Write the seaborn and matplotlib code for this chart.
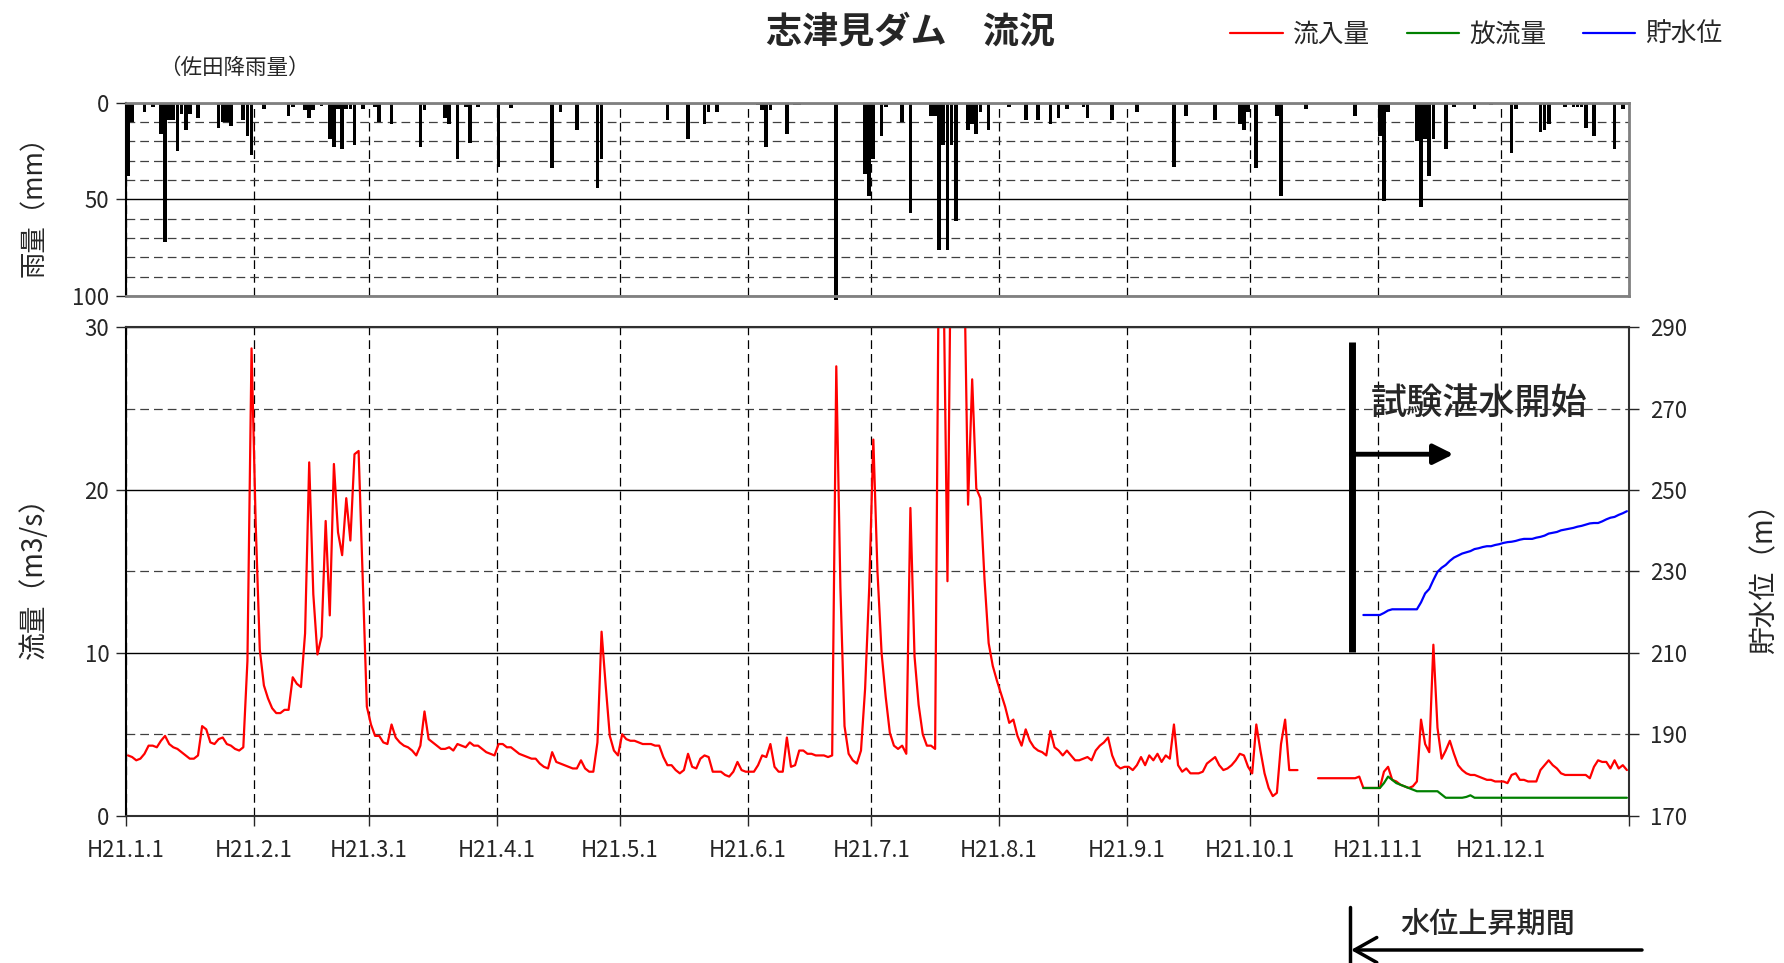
import numpy as np
import pandas as pd
import seaborn as sns
import matplotlib.pyplot as plt
from matplotlib.lines import Line2D
from matplotlib.ticker import MultipleLocator

# H21 (2009) daily record
# 佐田降雨量: day of year (0 = Jan 1) and rainfall in mm, other days 0
rain_day = [0, 1, 4, 6, 8, 9, 10, 11, 12, 13, 14, 15, 17, 22, 23, 24, 25, 28, 29, 30,
            33, 39, 40, 43, 44, 45, 47, 49, 50, 51, 52, 53, 54, 55, 57, 60, 61, 64, 71, 72,
            77, 78, 80, 82, 83, 85, 90, 93, 103, 105, 109, 114, 115, 131, 135, 136, 140, 141, 143, 153,
            154, 155, 156, 160, 162, 163, 172, 179, 180, 181, 183, 184, 188, 190, 195, 196, 197, 198, 199, 200,
            201, 204, 205, 206, 207, 209, 214, 218, 221, 224, 226, 228, 232, 233, 239, 245, 254, 257, 264, 270,
            271, 272, 274, 279, 280, 286, 298, 304, 305, 306, 313, 314, 315, 316, 317, 320, 322, 327, 331, 336,
            337, 343, 344, 345, 349, 351, 352, 353, 354, 356, 361, 363]
rain_mm = [38, 10, 5, 2, 16, 72, 9, 9, 25, 6, 14, 6, 8, 13, 10, 10, 12, 9, 17, 27,
           3, 7, 2, 4, 8, 4, 1.5, 19, 23, 3, 24, 3, 3, 22, 3, 2, 10, 11, 23, 4,
           8, 11, 29, 2, 21, 2, 33, 2.5, 34, 5, 14, 44, 29, 9, 0.5, 19, 11, 5, 5, 1,
           4, 23, 4, 16, 1, 1, 102, 37, 48, 29, 17, 2, 10, 57, 7, 7, 76, 22, 76, 22,
           61, 14, 11, 16, 5, 14, 2, 9, 9, 11, 8, 3, 2, 8, 9, 5, 33, 7, 9, 11,
           14, 5, 34, 7, 48, 3, 7, 17, 51, 5, 20, 54, 19, 38, 19, 24, 2, 3, 1, 26,
           3, 15, 14, 11, 2, 2, 2, 2, 13, 17, 24, 3]

# 流入量 (m3/s), one value per day
inflow_jan = [3.7, 3.6, 3.4, 3.5, 3.8, 4.3, 4.3, 4.2, 4.6, 4.9, 4.4, 4.2, 4.1, 3.9, 3.7, 3.5,
              3.5, 3.7, 5.5, 5.3, 4.5, 4.4, 4.7, 4.8, 4.4, 4.3, 4.1, 4.0, 4.2, 9.5, 28.7]
inflow_feb = [18.0, 10.2, 8.0, 7.2, 6.6, 6.3, 6.3, 6.5, 6.5, 8.5, 8.1, 7.9, 11.2, 21.7,
              13.6, 9.9, 11.0, 18.1, 12.3, 21.6, 17.4, 16.0, 19.5, 16.9, 22.2, 22.4, 14.5, 6.7]
inflow_mar = [5.6, 4.9, 4.9, 4.5, 4.4, 5.6, 4.8, 4.5, 4.3, 4.2, 4.0, 3.7, 4.3, 6.4, 4.7, 4.5,
              4.3, 4.1, 4.1, 4.2, 4.0, 4.4, 4.3, 4.2, 4.5, 4.3, 4.3, 4.1, 3.9, 3.8, 3.7]
inflow_apr = [4.4, 4.4, 4.2, 4.2, 4.0, 3.8, 3.7, 3.6, 3.5, 3.5, 3.2, 3.0, 2.9, 3.9, 3.3,
              3.2, 3.1, 3.0, 2.9, 2.9, 3.4, 2.9, 2.7, 2.7, 4.5, 11.3, 8.0, 4.9, 4.0, 3.7]
inflow_may = [5.0, 4.7, 4.6, 4.6, 4.5, 4.4, 4.4, 4.4, 4.3, 4.3, 3.6, 3.1, 3.1, 2.8, 2.6, 2.8,
              3.8, 3.0, 2.9, 3.5, 3.7, 3.6, 2.7, 2.7, 2.7, 2.5, 2.4, 2.7, 3.3, 2.8, 2.7]
inflow_jun = [2.7, 2.7, 3.1, 3.7, 3.6, 4.4, 3.0, 2.7, 2.7, 4.8, 3.0, 3.1, 4.0, 4.0, 3.8,
              3.8, 3.7, 3.7, 3.7, 3.6, 3.7, 27.6, 14.0, 5.5, 3.8, 3.4, 3.2, 4.0, 7.8, 14.0]
inflow_jul = [23.1, 15.0, 10.0, 7.3, 5.1, 4.3, 4.1, 4.3, 3.8, 18.9, 9.8, 6.8, 5.0, 4.3, 4.3, 4.1,
              38.0, 34.0, 14.4, 40.0, 45.0, 42.0, 35.0, 19.1, 26.8, 20.1, 19.5, 14.5, 10.6, 9.2, 8.3]
inflow_aug = [7.5, 6.7, 5.7, 5.9, 4.9, 4.3, 5.3, 4.6, 4.2, 4.0, 3.9, 3.7, 5.2, 4.2, 4.0, 3.7,
              4.0, 3.7, 3.4, 3.4, 3.5, 3.6, 3.4, 4.0, 4.3, 4.5, 4.8, 3.7, 3.1, 2.9, 3.0]
inflow_sep = [3.0, 2.8, 3.1, 3.6, 3.1, 3.7, 3.4, 3.8, 3.3, 3.7, 3.5, 5.6, 3.1, 2.7, 2.9,
              2.6, 2.6, 2.6, 2.7, 3.2, 3.4, 3.6, 3.1, 2.8, 2.9, 3.1, 3.4, 3.8, 3.7, 3.0]
inflow_oct = [2.6, 5.6, 4.0, 2.6, 1.7, 1.2, 1.4, 4.4, 5.9, 2.8, 2.8, 2.8, np.nan, np.nan, np.nan, np.nan,
              2.3, 2.3, 2.3, 2.3, 2.3, 2.3, 2.3, 2.3, 2.3, 2.3, 2.4, 1.7, 1.7, 1.7, 1.7]
inflow_nov = [1.7, 2.7, 3.0, 2.2, 2.1, 1.9, 1.8, 1.7, 1.8, 2.1, 5.9, 4.4, 3.9, 10.5, 5.4,
              3.5, 4.0, 4.6, 3.8, 3.1, 2.8, 2.6, 2.5, 2.5, 2.4, 2.3, 2.2, 2.2, 2.1, 2.1]
inflow_dec = [2.1, 2.0, 2.5, 2.6, 2.2, 2.2, 2.1, 2.1, 2.1, 2.8, 3.1, 3.4, 3.1, 2.9, 2.6, 2.5,
              2.5, 2.5, 2.5, 2.5, 2.5, 2.3, 3.0, 3.4, 3.3, 3.3, 2.9, 3.4, 2.9, 3.1, 2.8]

# 放流量 and 貯水位 from 10/28 (start of test impounding records)
outflow = [1.7, 1.7, 1.7, 1.7,
           1.7, 2.0, 2.4, 2.2, 2.0, 1.9, 1.8, 1.7, 1.6, 1.5, 1.5, 1.5, 1.5, 1.5, 1.5,
           1.3, 1.1, 1.1, 1.1, 1.1, 1.1, 1.15, 1.25, 1.1, 1.1, 1.1, 1.1, 1.1, 1.1, 1.1,
           1.1, 1.1, 1.1, 1.1, 1.1, 1.1, 1.1, 1.1, 1.1, 1.1, 1.1, 1.1, 1.1, 1.1, 1.1, 1.1,
           1.1, 1.1, 1.1, 1.1, 1.1, 1.1, 1.1, 1.1, 1.1, 1.1, 1.1, 1.1, 1.1, 1.1, 1.1]
level = [219.3, 219.3, 219.3, 219.3,
         219.3, 219.8, 220.4, 220.7, 220.7, 220.7, 220.7, 220.7, 220.7, 220.7, 222.4, 224.6,
         225.7, 227.9, 229.9, 230.9, 231.6, 232.6, 233.4, 233.9, 234.4, 234.7, 235.0, 235.5,
         235.7, 236.0, 236.2, 236.2, 236.5, 236.7,
         237.0, 237.2, 237.3, 237.5, 237.8, 238.0, 238.0, 238.0, 238.3, 238.5, 238.8, 239.3,
         239.5, 239.7, 240.1, 240.3, 240.5, 240.7, 241.0, 241.2, 241.5, 241.8, 241.9, 241.9,
         242.3, 242.8, 243.2, 243.4, 243.9, 244.3, 244.8]

sns.set_style('white')
plt.rcParams['font.family'] = ['Noto Sans CJK JP', 'DejaVu Sans']

days = pd.date_range('2009-01-01', '2009-12-31')
inflow = (inflow_jan + inflow_feb + inflow_mar + inflow_apr + inflow_may + inflow_jun +
          inflow_jul + inflow_aug + inflow_sep + inflow_oct + inflow_nov + inflow_dec)
df = pd.DataFrame({'x': days.dayofyear - 0.5, 'inflow': inflow})
df['seg'] = df['inflow'].isna().cumsum()   # break the line where data is missing

dam_days = pd.date_range('2009-10-28', '2009-12-31')
df_dam = pd.DataFrame({'x': dam_days.dayofyear - 0.5, 'outflow': outflow, 'level': level})

rain = pd.DataFrame({'x': np.array(rain_day) + 0.5, 'mm': rain_mm})

month_start = pd.date_range('2009-01-01', periods=13, freq='MS')
mticks = (month_start - month_start[0]).days
mlabels = ['H21.%d.1' % m for m in range(1, 13)] + ['']

fig = plt.figure(figsize=(17.84, 9.63), dpi=100)
ax_r = fig.add_axes([0.0706, 0.6926, 0.8425, 0.2007])
ax = fig.add_axes([0.0706, 0.1530, 0.8425, 0.5072])

dash = (0, (7, 4))

# rainfall (top, inverted)
sns.barplot(data=rain, x='x', y='mm', native_scale=True, orient='x', color='black',
            saturation=1, width=0.9, errorbar=None, linewidth=0, ax=ax_r)
for p in ax_r.patches:
    p.set_clip_on(False)
ax_r.set_xlim(0, 365)
ax_r.set_ylim(100, 0)
ax_r.set_xticks(mticks)
ax_r.set_xticklabels([])
ax_r.yaxis.set_major_locator(MultipleLocator(50))
ax_r.yaxis.set_minor_locator(MultipleLocator(10))
ax_r.set_axisbelow(True)
ax_r.xaxis.grid(True, which='major', color='black', linestyle=dash, lw=0.9)
ax_r.yaxis.grid(True, which='major', color='black', lw=1)
ax_r.yaxis.grid(True, which='minor', color='#404040', linestyle=dash, lw=0.9)
ax_r.tick_params(axis='x', length=0)
ax_r.tick_params(axis='y', which='major', direction='out', length=7, width=1,
                 labelsize=16, pad=5, left=True)
ax_r.tick_params(axis='y', which='minor', length=0)
ax_r.set_xlabel('')
ax_r.set_ylabel('雨量（mm）', fontsize=19, va='center')
ax_r.yaxis.set_label_coords(-0.061, 0.5)
for s in ['top', 'right', 'bottom']:
    ax_r.spines[s].set_color('#808080')
    ax_r.spines[s].set_linewidth(2)
ax_r.spines['left'].set_color('black')
ax_r.spines['left'].set_linewidth(1.5)

# flows (bottom)
sns.lineplot(data=df, x='x', y='inflow', units='seg', estimator=None,
             color='red', lw=1.6, ax=ax)
sns.lineplot(data=df_dam, x='x', y='outflow', color='green', lw=1.6, ax=ax)
ax.set_xlim(0, 365)
ax.set_ylim(0, 30)
ax.set_xticks(mticks)
ax.set_xticklabels(mlabels)
ax.yaxis.set_major_locator(MultipleLocator(10))
ax.yaxis.set_minor_locator(MultipleLocator(5))
ax.set_axisbelow(True)
ax.xaxis.grid(True, which='major', color='black', linestyle=dash, lw=0.9)
ax.yaxis.grid(True, which='major', color='black', lw=1)
ax.yaxis.grid(True, which='minor', color='#404040', linestyle=dash, lw=0.9)
ax.tick_params(axis='x', direction='out', length=7, width=1, labelsize=16, pad=10, bottom=True)
ax.tick_params(axis='y', which='major', direction='out', length=7, width=1,
               labelsize=16, pad=5, left=True)
ax.tick_params(axis='y', which='minor', length=0)
ax.set_xlabel('')
ax.set_ylabel('流量（m3/s）', fontsize=20, va='center')
ax.yaxis.set_label_coords(-0.061, 0.5)
for s in ax.spines.values():
    s.set_color('#303030')
    s.set_linewidth(1.5)
ax.spines['left'].set_color('black')

# water level on the right
ax2 = ax.twinx()
sns.lineplot(data=df_dam, x='x', y='level', color='blue', lw=1.6, ax=ax2)
ax2.set_ylim(170, 290)
ax2.set_yticks(range(170, 291, 20))
ax2.tick_params(axis='y', direction='out', length=7, width=1, labelsize=16, pad=8, right=True)
ax2.set_ylabel('貯水位（m）', fontsize=20, va='center', rotation=90)
ax2.yaxis.set_label_coords(1.0898, 0.5)
for s in ax2.spines.values():
    s.set_visible(False)
ax2.set_xlim(0, 365)

# test impounding start marker
ax.plot([297.7, 297.7], [10.05, 29.1], color='black', lw=5, solid_capstyle='butt', zorder=5)
ax.annotate('', xy=(322.4, 22.2), xytext=(297.7, 22.2),
            arrowprops=dict(arrowstyle='-|>,head_length=0.6,head_width=0.3', mutation_scale=20,
                            lw=3.5, color='black', shrinkA=0, shrinkB=0), zorder=5)
ax.text(328.5, 25.3, '試験湛水開始', fontsize=26, fontweight='medium', ha='center', va='center')

# water level rise period, below the axis
fig.add_artist(Line2D([1349.5 / 1784, 1349.5 / 1784], [1 - 907 / 963, 0],
                      transform=fig.transFigure, color='black', lw=2.5))
ax.annotate('', xy=(1351, 963 - 950), xycoords='figure pixels',
            xytext=(1642, 963 - 950), textcoords='figure pixels', annotation_clip=False,
            arrowprops=dict(arrowstyle='->,head_length=0.8,head_width=0.45', mutation_scale=20,
                            lw=2.5, color='black', shrinkA=0, shrinkB=0))
fig.text(1488 / 1784, 1 - 924 / 963, '水位上昇期間', fontsize=21, fontweight='medium',
         ha='center', va='center')

# titles and legend
fig.text(910 / 1784, 1 - 32 / 963, '志津見ダム　流況', fontsize=26, fontweight='bold',
         ha='center', va='center')
fig.text(234 / 1784, 1 - 68 / 963, '（佐田降雨量）', fontsize=15.5, ha='center', va='center')
handles = [Line2D([], [], color=c, lw=1.6) for c in ['red', 'green', 'blue']]
fig.legend(handles, ['流入量', '放流量', '貯水位'], loc='center right',
           bbox_to_anchor=(1746 / 1784, 1 - 35 / 963), ncol=3, frameon=False, fontsize=18.5,
           handlelength=2.05, handletextpad=0.4, columnspacing=1.4)

fig.savefig('out.png', dpi=100)
